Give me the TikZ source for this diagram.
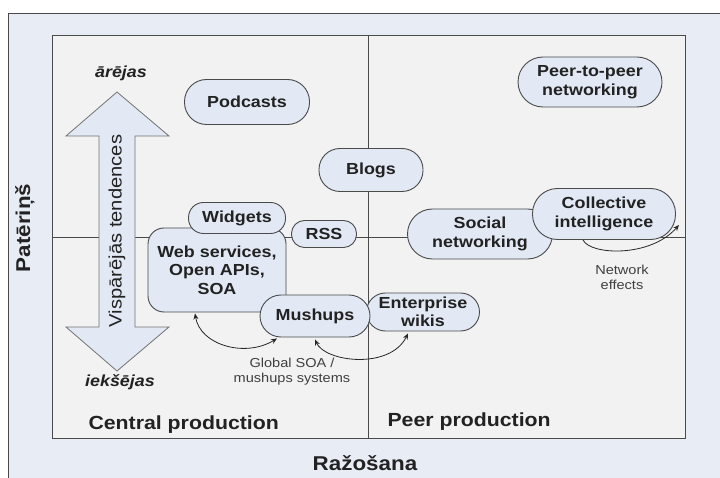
\documentclass[tikz,border=0pt]{standalone}
\usepackage{fontspec}
\setmainfont[FakeStretch=1.12]{Liberation Sans}
\usetikzlibrary{arrows.meta,calc}
\definecolor{outerbg}{HTML}{E8EDF5}
\definecolor{innerbg}{HTML}{F2F2F2}
\definecolor{nodebg}{HTML}{E2E9F4}
\definecolor{linegray}{HTML}{4A4A4A}
\definecolor{textdark}{HTML}{222222}
\tikzset{
  frame/.style={draw=linegray, line width=0.9pt},
  pill/.style={draw=linegray, line width=0.9pt, fill=nodebg, align=center,
    font=\fontsize{16}{18.5}\selectfont\bfseries, text=textdark, inner sep=0pt},
  conn/.style={draw=black!85, line width=0.8pt, {Stealth[length=6pt,width=5pt]}-{Stealth[length=6pt,width=5pt]}},
  conn1/.style={draw=black!85, line width=0.8pt, -{Stealth[length=6pt,width=5pt]}},
  smalllbl/.style={font=\fontsize{13}{15}\selectfont, text=black!75, align=center},
  axislbl/.style={font=\fontsize{20}{24}\selectfont\bfseries, text=textdark},
  quadlbl/.style={font=\fontsize{19}{22}\selectfont\bfseries, text=textdark, anchor=west},
  dirlbl/.style={font=\fontsize{16}{19}\selectfont\bfseries\itshape, text=textdark}
}
\begin{document}
\begin{tikzpicture}[x=1pt,y=-1pt]
\useasboundingbox (0,0) rectangle (720,478);
\fill[white] (0,0) rectangle (720,478);
\draw[frame, fill=outerbg] (8,13) rectangle (726,486);
\draw[frame, fill=innerbg] (52,35) rectangle (685,438);
\draw[frame] (368,35) -- (368,438);
\draw[frame] (52,237) -- (685,237);

% big double arrow
\draw[draw=black!55, line width=0.8pt, fill=nodebg]
  (117,92) -- (169,136) -- (135,136) -- (135,327) -- (169,327) -- (117,371)
  -- (66,327) -- (99,327) -- (99,136) -- (66,136) -- cycle;
\node[rotate=90, font=\fontsize{18}{20}\selectfont, text=textdark] (trend) at (117,231) {Vispārējās tendences};
\node[dirlbl] (outer) at (121,73) {ārējas};
\node[dirlbl] (inner) at (120,382) {iekšējas};

% axis labels
\node[axislbl, rotate=90] (cons) at (25,228) {Patēriņš};
\node[axislbl] (prod) at (365,463) {Ražošana};
\node[quadlbl] (central) at (85,425) {Central production};
\node[quadlbl] (peer) at (384,422) {Peer production};

% nodes
\node[pill, rounded corners=22pt, minimum width=125pt, minimum height=45pt] (podcasts) at (247,102) {Podcasts};
\node[pill, rounded corners=21pt, minimum width=104pt, minimum height=43pt] (blogs) at (371,170) {Blogs};
\node[pill, rounded corners=25pt, minimum width=144pt, minimum height=50pt] (p2p) at (590,82) {Peer-to-peer\\networking};
\node[pill, rounded corners=16pt, minimum width=138pt, minimum height=84pt] (websvc) at (217,270) {Web services,\\Open APIs,\\SOA};
\node[pill, rounded corners=15pt, minimum width=97pt, minimum height=31pt] (widgets) at (237,218) {Widgets};
\node[pill, rounded corners=13pt, minimum width=65pt, minimum height=27pt] (rss) at (324,234) {RSS};
\node[pill, rounded corners=19pt, minimum width=113pt, minimum height=38pt] (wikis) at (423,312) {Enterprise\\wikis};
\node[pill, rounded corners=21pt, minimum width=110pt, minimum height=42pt] (mushups) at (315,316) {Mushups};
\node[pill, rounded corners=25pt, minimum width=145pt, minimum height=50pt] (social) at (480,234) {Social\\networking};
\node[pill, rounded corners=25pt, minimum width=143pt, minimum height=51pt] (collective) at (604,214) {Collective\\intelligence};

% connectors
\draw[conn] ($(websvc.south)+(-22,1)$) .. controls (200,345) and (245,358) .. ($(mushups.south)+(-38,1)$);
\draw[conn] ($(mushups.south)+(0,2)$) .. controls (325,362) and (390,370) .. ($(wikis.south)+(-15,2)$);
\draw[conn1] ($(collective.south)+(-21,0)$) .. controls (590,255) and (650,258) .. ($(collective.east)+(3,11)$);

\node[smalllbl] (globallbl) at (292,372) {Global SOA /\\mushups systems};
\node[smalllbl] (netlbl) at (622,277) {Network\\effects};
\end{tikzpicture}
\end{document}
